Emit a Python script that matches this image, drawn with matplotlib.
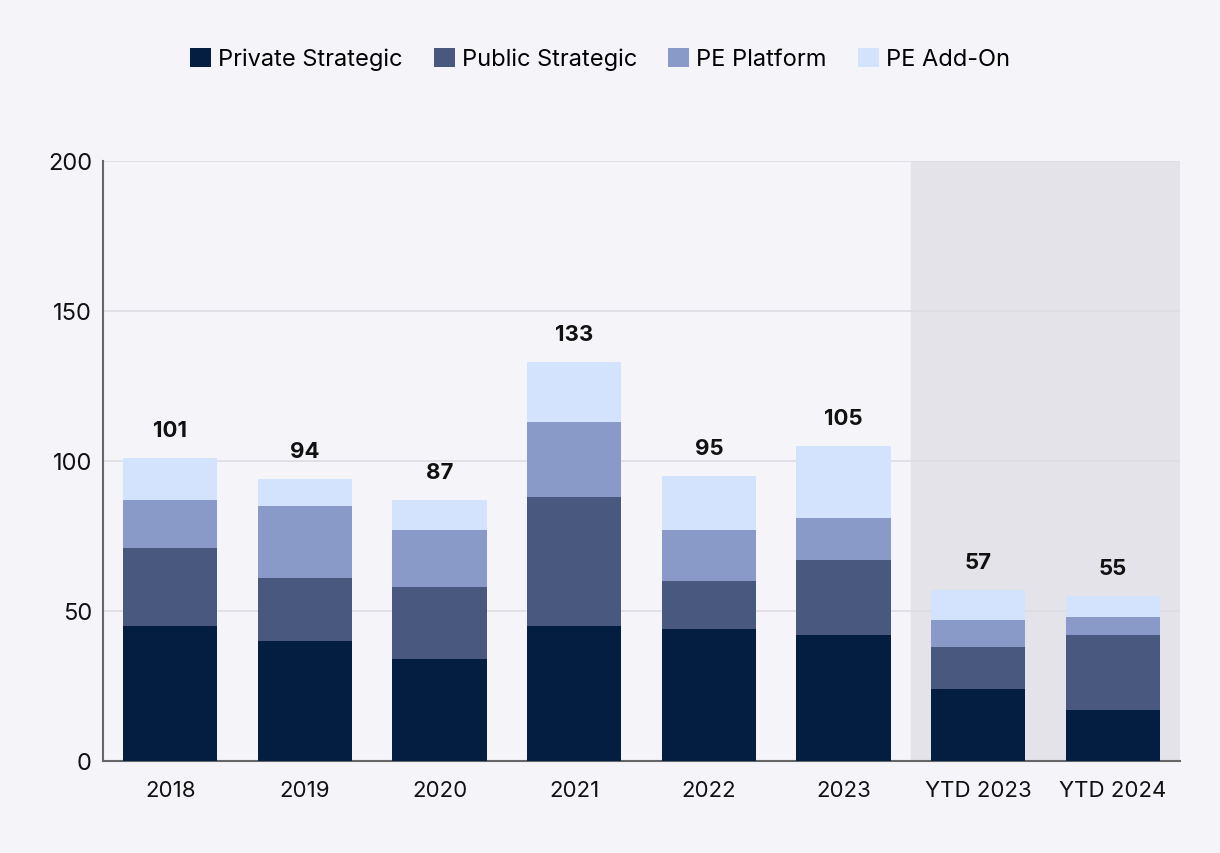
import matplotlib.pyplot as plt
import numpy as np

plt.rcParams['font.family'] = ['Inter', 'DejaVu Sans']

categories = ['2018', '2019', '2020', '2021', '2022', '2023', 'YTD 2023', 'YTD 2024']
private_strategic = [45, 40, 34, 45, 44, 42, 24, 17]
public_strategic = [26, 21, 24, 43, 16, 25, 14, 25]
pe_platform = [16, 24, 19, 25, 17, 14, 9, 6]
pe_addon = [14, 9, 10, 20, 18, 24, 10, 7]

series = [
    ('Private Strategic', private_strategic, '#041e42'),
    ('Public Strategic', public_strategic, '#48587f'),
    ('PE Platform', pe_platform, '#8a9ac8'),
    ('PE Add-On', pe_addon, '#d3e2fd'),
]

bg = '#f5f4f9'
fig = plt.figure(figsize=(12.2, 8.54), dpi=100, facecolor=bg)
ax = fig.add_axes([103/1220, 1 - 762/854, 1077/1220, 600/854])
ax.set_facecolor(bg)

x = np.arange(len(categories))
bottom = np.zeros(len(categories))
for name, vals, col in series:
    ax.bar(x, vals, 0.7, bottom=bottom, color=col, label=name, zorder=3)
    bottom += np.array(vals)

# shaded YTD region
ax.axvspan(5.5, 7.5, color='#e4e3ea', zorder=0)

for xi, tot in zip(x, bottom):
    ax.annotate(f'{int(tot)}', (xi, tot), xytext=(0, 20), textcoords='offset points',
                ha='center', va='center', fontsize=16, fontweight='bold', color='#111111')

ax.set_xlim(-0.5, 7.5)
ax.set_ylim(0, 200)
ax.set_yticks([0, 50, 100, 150, 200])
ax.set_xticks(x)
ax.set_xticklabels(categories)
ax.tick_params(axis='both', length=0, labelsize=16, colors='#111111')
ax.tick_params(axis='x', pad=14)
ax.tick_params(axis='y', pad=8, labelsize=17)
ax.grid(axis='y', color='#dddce3', linewidth=1.2, zorder=1)
ax.set_axisbelow(True)
for s in ['top', 'right']:
    ax.spines[s].set_visible(False)
ax.spines['left'].set_color('#666666')
ax.spines['left'].set_linewidth(1.5)
ax.spines['bottom'].set_color('#666666')
ax.spines['bottom'].set_linewidth(1.5)

fig.legend(loc='center', bbox_to_anchor=(600/1220, 1 - 60/854), ncol=4, frameon=False,
           fontsize=17, handlelength=0.9, handleheight=0.9, handletextpad=0.3,
           columnspacing=1.3)

fig.savefig('out.png', dpi=100, facecolor=bg)
